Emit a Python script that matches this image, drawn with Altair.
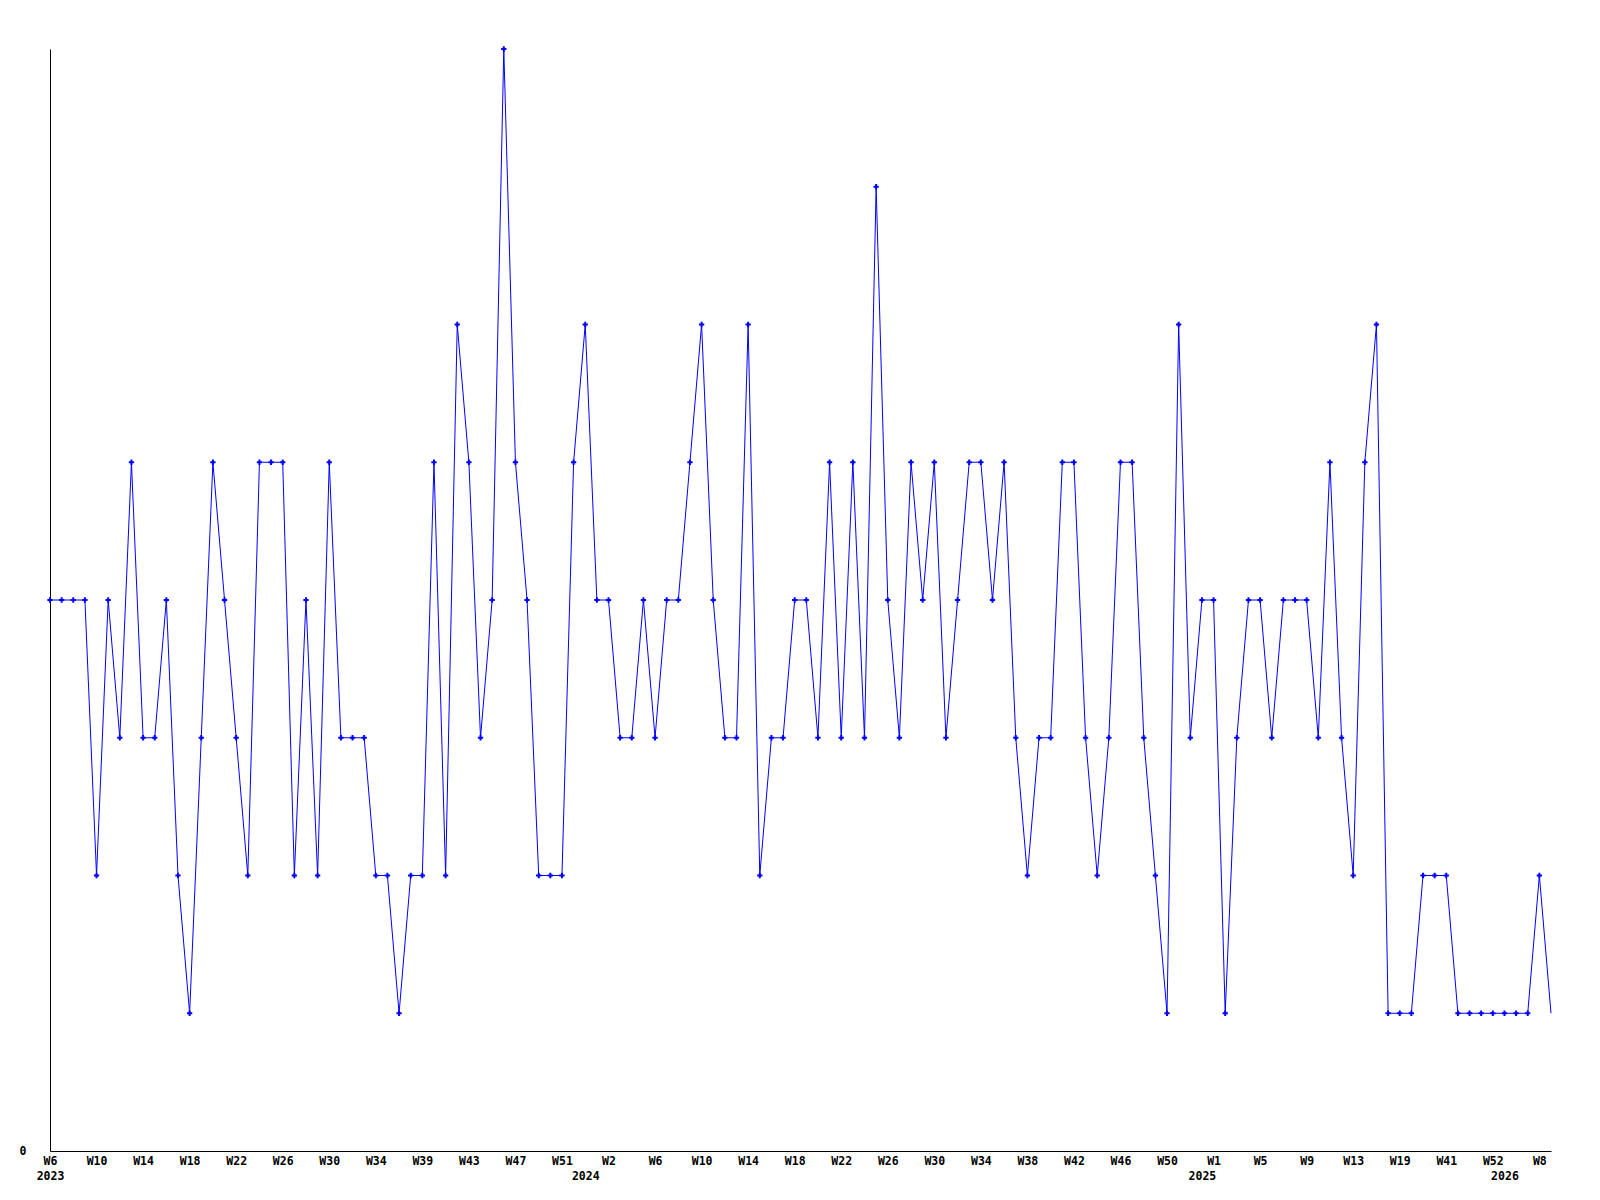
import json
import altair as alt
import pandas as pd

# Weekly values (one per plotted point, in order)
values = [
    4, 4, 4, 4, 2, 4, 3, 5, 3, 3,
    4, 2, 1, 3, 5, 4, 3, 2, 5, 5,
    5, 2, 4, 2, 5, 3, 3, 3, 2, 2,
    1, 2, 2, 5, 2, 6, 5, 3, 4, 8,
    5, 4, 2, 2, 2, 5, 6, 4, 4, 3,
    3, 4, 3, 4, 4, 5, 6, 4, 3, 3,
    6, 2, 3, 3, 4, 4, 3, 5, 3, 5,
    3, 7, 4, 3, 5, 4, 5, 3, 4, 5,
    5, 4, 5, 3, 2, 3, 3, 5, 5, 3,
    2, 3, 5, 5, 3, 2, 1, 6, 3, 4,
    4, 1, 3, 4, 4, 3, 4, 4, 4, 3,
    5, 3, 2, 5, 6, 1, 1, 1, 2, 2,
    2, 1, 1, 1, 1, 1, 1, 1, 2, 1,
]

# Week numbers of each point, per year
weeks_2023 = [6, 7, 8, 9, 10, 11, 12, 13, 14, 15, 16, 17, 18, 19, 20, 21, 22, 23,
              24, 25, 26, 27, 28, 29, 30, 31, 32, 33, 34, 35, 36, 37, 39, 40, 41,
              42, 43, 44, 45, 46, 47, 48, 49, 50, 51, 52]
weeks_2024 = [0, 1, 2, 3, 4, 5, 6, 7, 8, 9, 10, 11, 12, 13, 14, 15, 16, 17, 18,
              19, 20, 21, 22, 23, 24, 25, 26, 27, 28, 29, 30, 31, 32, 33, 34, 35,
              36, 37, 38, 39, 40, 41, 42, 43, 44, 45, 46, 47, 48, 49, 50, 51, 52]
weeks_2025 = [0, 1, 2, 3, 4, 5, 6, 7, 8, 9, 10, 11, 12, 13, 14, 16, 17, 19, 23,
              30, 36, 41, 45, 48, 50, 52]
weeks_2026 = [0, 3, 5, 8, 9]

year_names = ["2023", "2024", "2025", "2026"]
week_groups = [weeks_2023, weeks_2024, weeks_2025, weeks_2026]

weeks, years = [], []
for yname, wk in zip(year_names, week_groups):
    weeks += wk
    years += [yname] * len(wk)

n = len(values)
df = pd.DataFrame({
    "idx": list(range(n)),
    "value": values,
    "week": ["W%d" % w for w in weeks],
    "year": years,
})

# Axis labels: week name every 4th point, year under first point of each year
year_start = {}
for i, y in enumerate(years):
    year_start.setdefault(y, i)
start_idx = {v: k for k, v in year_start.items()}

tick_vals = sorted(set(range(0, n, 4)) | set(year_start.values()))
label_map = []
for i in range(n):
    wk = df["week"][i] if i % 4 == 0 else " "
    if i in start_idx:
        label_map.append([wk, start_idx[i]])
    else:
        label_map.append(wk)

label_expr = json.dumps(label_map) + "[datum.value]"

FONT = "DejaVu Sans Mono"
BLUE = "#0000ff"

x_enc = alt.X(
    "idx:Q",
    scale=alt.Scale(domain=[0, n - 1], nice=False, zero=False),
    axis=alt.Axis(
        values=tick_vals,
        labelExpr=label_expr,
        ticks=False,
        grid=False,
        title=None,
        domainColor="black",
        domainWidth=1,
        labelFont=FONT,
        labelFontSize=11.5,
        labelFontWeight="bold",
        labelColor="black",
        labelPadding=4,
        labelLineHeight=15,
        labelOverlap=False,
        labelFlush=False,
        labelBound=False,
        labelAlign="center",
        labelBaseline="top",
    ),
)
y_enc = alt.Y(
    "value:Q",
    scale=alt.Scale(domain=[0, 8], nice=False, zero=True),
    axis=alt.Axis(
        values=[0],
        format="d",
        ticks=False,
        grid=False,
        title=None,
        domainColor="black",
        domainWidth=1,
        labelFont=FONT,
        labelFontSize=11.5,
        labelFontWeight="bold",
        labelColor="black",
        labelPadding=24,
        labelBaseline="middle",
    ),
)

base = alt.Chart(df)
line = base.mark_line(color=BLUE, strokeWidth=1).encode(x=x_enc, y=y_enc)
pts = base.transform_filter(f"datum.idx < {n - 1}").mark_point(
    shape="M-1,0L1,0M0,-1L0,1",
    size=28,
    filled=False,
    color=BLUE,
    strokeWidth=2,
    opacity=1,
).encode(x="idx:Q", y="value:Q")

chart = (
    alt.layer(line, pts)
    .properties(
        width=1501,
        height=1102,
        background="white",
        autosize=alt.AutoSizeParams(type="none"),
        padding={"left": 42, "top": 41, "right": 40, "bottom": 40},
    )
    .configure_view(stroke=None, strokeWidth=0)
)

chart.save("out.html", embed_options={"renderer": "svg", "actions": False})
